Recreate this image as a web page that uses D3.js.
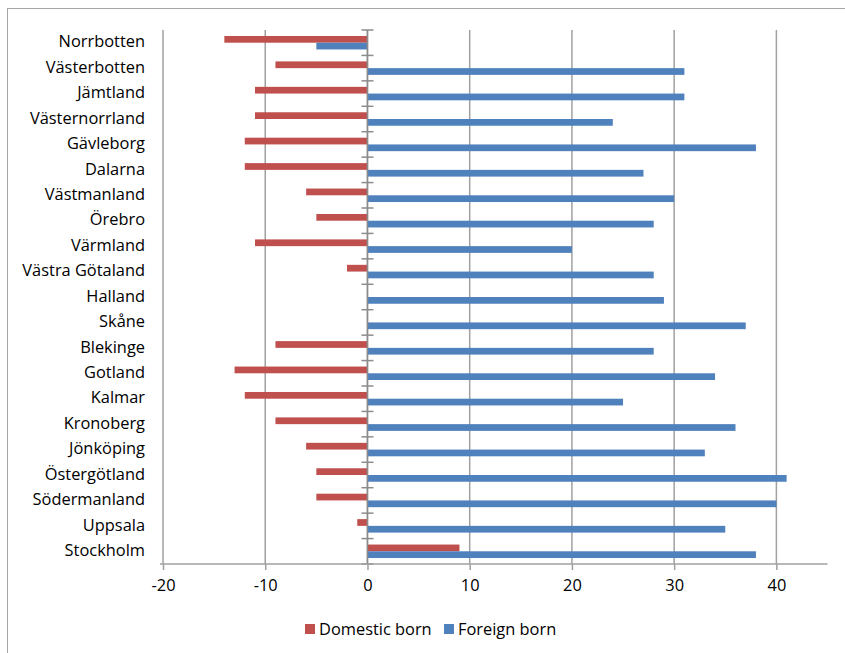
<!DOCTYPE html>
<html><head><meta charset="utf-8">
<script src="https://cdn.jsdelivr.net/npm/d3@7"></script>
<style>body{margin:0;background:#fff}svg{display:block}text{font-family:"Open Sans",sans-serif}</style>
</head><body><svg id="c" width="845" height="653"></svg>
<script>
const categories = ["Norrbotten","Västerbotten","Jämtland","Västernorrland","Gävleborg","Dalarna","Västmanland","Örebro","Värmland","Västra Götaland","Halland","Skåne","Blekinge","Gotland","Kalmar","Kronoberg","Jönköping","Östergötland","Södermanland","Uppsala","Stockholm"];
const domesticBorn = [-14,-9,-11,-11,-12,-12,-6,-5,-11,-2,0,0,-9,-13,-12,-9,-6,-5,-5,-1,9];
const foreignBorn = [-5,31,31,24,38,27,30,28,20,28,29,37,28,34,25,36,33,41,40,35,38];
const xTicks = [-20,-10,0,10,20,30,40];
const seriesNames = ["Domestic born","Foreign born"];
const colors = ["#C0504D","#4F81BD"];

const svg = d3.select("#c");
const L = 163, R = 827.5, T = 30, B = 564;
const x = d3.scaleLinear().domain([-20,45]).range([L,R]);
const y = d3.scaleBand().domain(categories).range([T,B]);
const bh = y.bandwidth()*0.265;
const FS = 16.4;

// outer border
svg.append("rect").attr("x",7.5).attr("y",8.5).attr("width",860).attr("height",660)
  .attr("fill","none").attr("stroke","#a6a6a6").attr("stroke-width",1);

// gridlines
svg.append("g").selectAll("line").data(xTicks).join("line")
  .attr("x1",d=>x(d)).attr("x2",d=>x(d)).attr("y1",T).attr("y2",B)
  .attr("stroke","#a0a0a0").attr("stroke-width",1.5);

// bars
const rows = categories.map((c,i)=>({c, d:domesticBorn[i], f:foreignBorn[i]}));
const g = svg.append("g");
g.selectAll("rect.d").data(rows).join("rect").attr("class","d")
  .attr("x",r=>x(Math.min(0,r.d))).attr("width",r=>Math.abs(x(r.d)-x(0)))
  .attr("y",r=>y(r.c)+y.bandwidth()/2-bh).attr("height",bh).attr("fill",colors[0]);
g.selectAll("rect.f").data(rows).join("rect").attr("class","f")
  .attr("x",r=>x(Math.min(0,r.f))).attr("width",r=>Math.abs(x(r.f)-x(0)))
  .attr("y",r=>y(r.c)+y.bandwidth()/2).attr("height",bh).attr("fill",colors[1]);

// vertical category axis at 0
const ax = svg.append("g").attr("stroke","#8c8c8c").attr("stroke-width",1.5);
ax.append("line").attr("x1",x(0)).attr("x2",x(0)).attr("y1",T).attr("y2",B);
const bounds = categories.map(c=>y(c)).concat([B]);
ax.selectAll("line.t").data(bounds).join("line").attr("class","t")
  .attr("x1",x(0)-6).attr("x2",x(0)+6).attr("y1",d=>d).attr("y2",d=>d);

// category labels
svg.append("g").selectAll("text").data(categories).join("text")
  .attr("x",145).attr("y",c=>y(c)+y.bandwidth()/2-1).attr("dy","0.35em")
  .attr("text-anchor","end").attr("font-size",FS).attr("fill","#000").text(c=>c);

// bottom axis
const xa = svg.append("g").attr("transform",`translate(0,${B})`)
  .call(d3.axisBottom(x).tickValues(xTicks).tickSize(6).tickPadding(9).tickFormat(d=>String(d)));
xa.select(".domain").attr("stroke","#a0a0a0").attr("stroke-width",1.5).attr("d",`M${L-3},0H${R}`);
xa.selectAll(".tick line").attr("stroke","#a0a0a0").attr("stroke-width",1.5);
xa.selectAll(".tick text").attr("font-size",FS).attr("fill","#000").attr("font-family","'Open Sans',sans-serif");

// legend
const leg = svg.append("g");
const lx = [305,444];
seriesNames.forEach((n,i)=>{
  leg.append("rect").attr("x",lx[i]).attr("y",624).attr("width",10).attr("height",10).attr("fill",colors[i]);
  leg.append("text").attr("x",lx[i]+14).attr("y",629).attr("dy","0.35em").attr("font-size",FS).attr("fill","#000").text(n);
});
</script></body></html>
